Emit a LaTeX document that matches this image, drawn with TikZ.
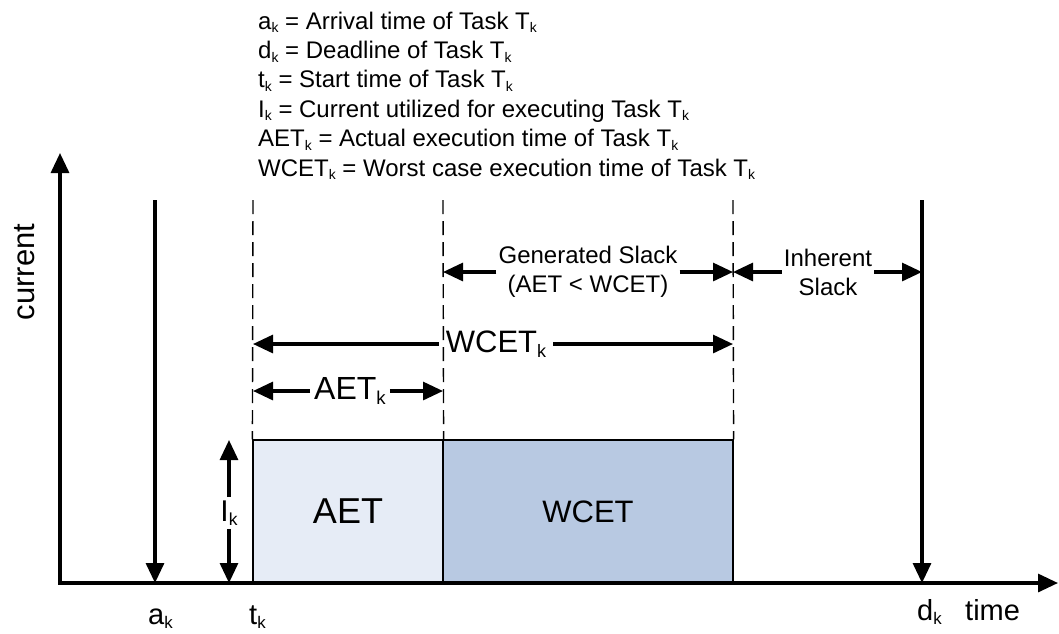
\documentclass[tikz,border=0pt]{standalone}
\usepackage{fontspec}
\setmainfont{Liberation Sans}
\usepackage{graphicx}
\usetikzlibrary{arrows.meta}
\newcommand{\sk}{\raisebox{-0.15em}{\scalebox{0.58}{k}}}
\definecolor{aetfill}{HTML}{E6ECF6}
\definecolor{wcetfill}{HTML}{B8C9E2}
\begin{document}
\begin{tikzpicture}[x=1pt,y=-1pt,
  arrowtip/.style={-{Triangle[length=20pt,width=18pt]}},
  axisline/.style={line width=3.2pt,{Triangle[length=20pt,width=18pt]}-{Triangle[length=20pt,width=18pt]},line join=miter},
  dimline/.style={line width=3.1pt,arrowtip},
  guide/.style={line width=1.4pt,dash pattern=on 14pt off 7pt},
  legend/.style={anchor=base west,inner sep=0pt,font=\fontsize{24}{29}\selectfont},
  slacklbl/.style={font=\fontsize{24}{29}\selectfont,align=center,inner xsep=2pt,inner ysep=2pt},
  dimlbl/.style={inner sep=5pt},
  ticklbl/.style={anchor=base west,inner sep=0pt,font=\fontsize{29}{34}\selectfont},
  taskbox/.style={draw,line width=1.2pt,inner sep=0pt,minimum height=143pt}
]
\useasboundingbox (0,0) rectangle (1059,633);

% legend
\node[legend] (l1) at (258,29) {a\sk{} = Arrival time of Task T\sk};
\node[legend] (l2) at (258,58.4) {d\sk{} = Deadline of Task T\sk};
\node[legend] (l3) at (258,87.8) {t\sk{} = Start time of Task T\sk};
\node[legend] (l4) at (258,117.2) {I\sk{} = Current utilized for executing Task T\sk};
\node[legend] (l5) at (258,146.6) {AET\sk{} = Actual execution time of Task T\sk};
\node[legend] (l6) at (258,176) {WCET\sk{} = Worst case execution time of Task T\sk};

% boxes
\node[taskbox,fill=aetfill,minimum width=190pt,font=\fontsize{36}{40}\selectfont] (aet) at (348,511.5) {AET};
\node[taskbox,fill=wcetfill,minimum width=290pt,font=\fontsize{31}{36}\selectfont] (wcet) at (588,511.5) {WCET};

% axes
\coordinate (O) at (60,583);
\coordinate (ytop) at (60,153);
\coordinate (xend) at (1058,583);
\draw[axisline] (ytop) -- (O) -- (xend);
\node[rotate=90,font=\fontsize{31}{36}\selectfont] (cur) at (25,272) {current};

% guides
\coordinate (g1) at (253,200);
\coordinate (g2) at (443,200);
\coordinate (g3) at (733,200);
\draw[guide] (g1) -- (aet.north west);
\draw[guide] (g2) -- (aet.north east);
\draw[guide] (g3) -- (wcet.north east);

% arrival and deadline
\coordinate (atop) at (155,200);
\coordinate (abot) at (155,583);
\draw[dimline,line width=3.2pt] (atop) -- (abot);
\coordinate (dtop) at (922,200);
\coordinate (dbot) at (922,583);
\draw[dimline,line width=3.2pt] (dtop) -- (dbot);

% current I_k
\coordinate (itop) at (229,440);
\coordinate (ibot) at (229,583);
\node[dimlbl,inner sep=3pt,font=\fontsize{30}{34}\selectfont] (ik) at (229,513) {I\sk};
\draw[dimline] (ik) -- (itop);
\draw[dimline] (ik) -- (ibot);

% WCET_k
\coordinate (w1) at (253,344);
\coordinate (w2) at (733,344);
\node[dimlbl,inner xsep=7pt,font=\fontsize{31}{36}\selectfont] (wl) at (496,344) {WCET\sk};
\draw[dimline] (wl) -- (w1);
\draw[dimline] (wl) -- (w2);

% AET_k
\coordinate (e1) at (253,391);
\coordinate (e2) at (443,391);
\node[dimlbl,inner xsep=4pt,font=\fontsize{32}{36}\selectfont] (el) at (350,391) {AET\sk};
\draw[dimline] (el) -- (e1);
\draw[dimline] (el) -- (e2);

% slack
\coordinate (s1) at (443,272);
\coordinate (s2) at (733,272);
\coordinate (s3) at (922,272);
\node[slacklbl] (gs) at (588,272) {Generated Slack\\(AET < WCET)};
\draw[dimline] (gs) -- (s1);
\draw[dimline] (gs) -- (s2);
\node[slacklbl] (is) at (828,272) {Inherent\\Slack};
\draw[dimline] (is) -- (s2);
\draw[dimline] (is) -- (s3);

% tick labels
\node[ticklbl] (ak) at (148,624) {a\sk};
\node[ticklbl] (tk) at (249,624) {t\sk};
\node[ticklbl] (dk) at (917,620) {d\sk};
\node[ticklbl] (tm) at (965,620) {time};
\end{tikzpicture}
\end{document}
